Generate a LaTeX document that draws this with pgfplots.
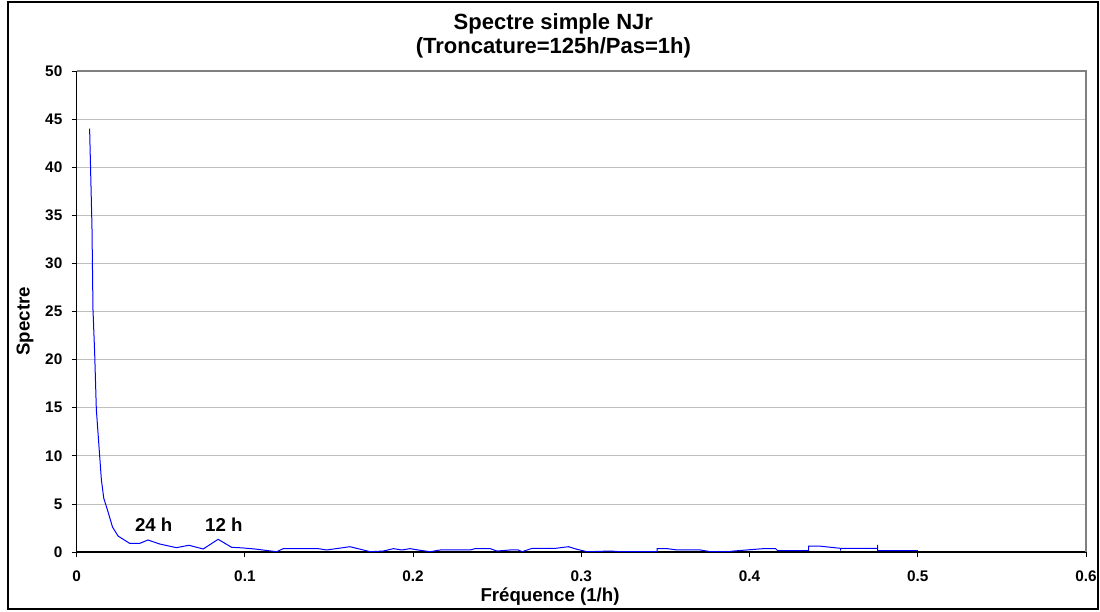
\documentclass[border=0pt]{standalone}
\usepackage{fontspec}
\setmainfont{Liberation Sans}
\usepackage{pgfplots}
\pgfplotsset{compat=1.18}
\begin{document}
\begin{tikzpicture}
\useasboundingbox (-57.5pt,-44.25pt) rectangle (767.5pt,414pt);
\draw[black, line width=1.1pt] (-51.5pt,-42.75pt) rectangle (766pt,412.5pt);
\begin{axis}[
  at={(0,0)}, anchor=south west,
  scale only axis, width=757pt, height=360.75pt,
  xmin=0, xmax=0.6, ymin=0, ymax=50,
  axis lines=left, axis line style={-, black, line width=0.8pt},
  xtick={0,0.1,...,0.6}, ytick={0,5,...,50},
  xticklabels={0,0.1,0.2,0.3,0.4,0.5,0.6},
  tick align=outside, major tick length=3.75pt,
  tick style={black, line width=0.6pt},
  ymajorgrids, grid style={draw=black!25, line width=0.6pt},
  /pgf/number format/assume math mode=true,
  ticklabel style={font=\fontsize{11.5}{13}\selectfont\bfseries},
  xticklabel style={yshift=-6.5pt},
  yticklabel style={xshift=-3.5pt},
  clip=false,
]
\addplot[blue, line width=0.75pt] coordinates {
(0.0077,44.0) (0.0091,33.8) (0.0097,25.2) (0.0107,20.7) (0.0117,14.8)
(0.0133,10.9) (0.0147,7.5) (0.0161,5.6) (0.0186,4.2) (0.0213,2.6)
(0.0246,1.66) (0.0315,0.9) (0.0375,0.9) (0.0424,1.25) (0.0494,0.83)
(0.0593,0.45) (0.0668,0.7) (0.0752,0.31) (0.0841,1.32) (0.0921,0.49)
(0.099,0.42) (0.106,0.31) (0.1189,0.03) (0.1228,0.35) (0.1327,0.35)
(0.1436,0.35) (0.1486,0.21) (0.1625,0.55) (0.1704,0.21) (0.1744,0.03)
(0.1823,0.1) (0.1883,0.35) (0.1933,0.21) (0.1982,0.35) (0.203,0.21)
(0.2101,0.03) (0.2161,0.21) (0.2339,0.21) (0.2369,0.35) (0.2458,0.35)
(0.2498,0.1) (0.2577,0.21) (0.2625,0.21) (0.2647,0.03) (0.2707,0.38)
(0.2776,0.38) (0.2845,0.38) (0.2924,0.55) (0.2974,0.28) (0.3034,0.03)
(0.3173,0.1) (0.3232,0.03) (0.345,0.03) (0.345,0.35) (0.351,0.35)
(0.357,0.21) (0.3708,0.21) (0.3768,0.03) (0.3875,0.03) (0.3905,0.1)
(0.4083,0.35) (0.4155,0.35) (0.4167,0.14) (0.4351,0.14) (0.4351,0.6)
(0.4423,0.6) (0.4542,0.38) (0.4542,0.14) (0.4542,0.38) (0.4762,0.38)
(0.4762,0.73) (0.4762,0.14) (0.5,0.14)
};
\node[font=\fontsize{14}{16}\selectfont\bfseries] at (axis cs:0.0458,2.8) {24 h};
\node[font=\fontsize{14}{16}\selectfont\bfseries] at (axis cs:0.0875,2.8) {12 h};
\draw[black!50, line width=0.8pt] (rel axis cs:0,1) -- (rel axis cs:1,1) -- (rel axis cs:1,0);
\end{axis}
\node[anchor=base, font=\fontsize{16.5}{18}\selectfont\bfseries] at (357.5pt,392pt) {Spectre simple NJr};
\node[anchor=base, font=\fontsize{16.5}{18}\selectfont\bfseries] at (357.5pt,374pt) {(Troncature=125h/Pas=1h)};
\node[anchor=base, font=\fontsize{14}{16}\selectfont\bfseries] at (355pt,-37.3pt) {Fréquence (1/h)};
\node[rotate=90, font=\fontsize{14}{16}\selectfont\bfseries] at (-38.8pt,173pt) {Spectre};
\end{tikzpicture}
\end{document}
